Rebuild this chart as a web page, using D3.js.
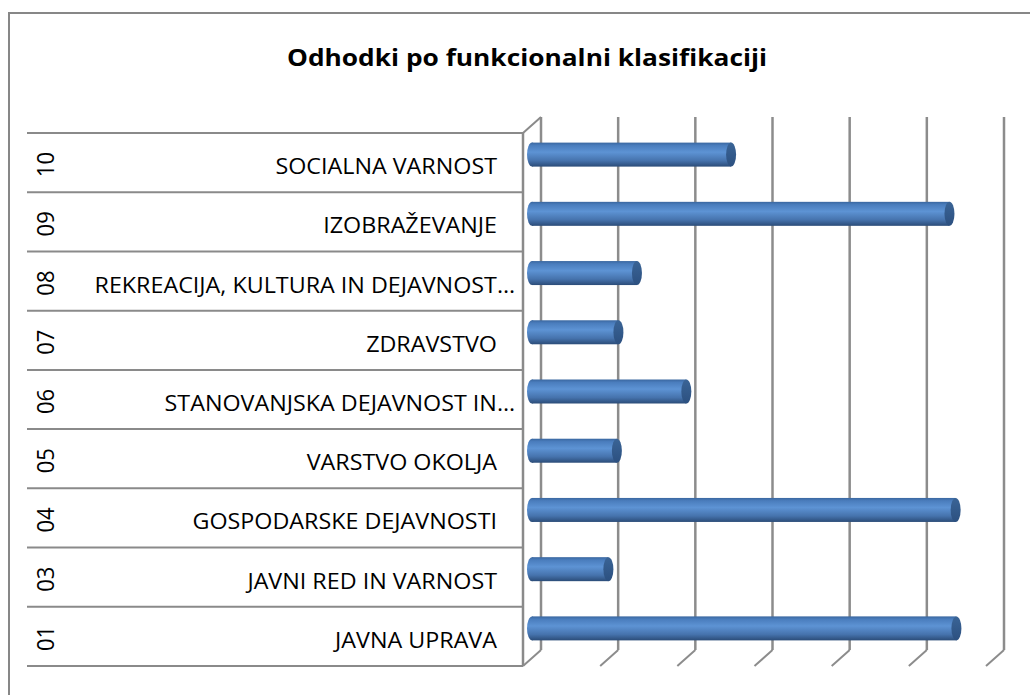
<!DOCTYPE html>
<html>
<head>
<meta charset="utf-8">
<script src="https://cdn.jsdelivr.net/npm/d3@7"></script>
<style>
  body { margin: 0; background: #fff; }
  text { font-family: "Open Sans", "Noto Sans", sans-serif; fill: #000; }
</style>
</head>
<body>
<script>
const width = 1030;
const height = 695;

// podatki (od zgoraj navzdol, kot na grafu)
const codes = ['10', '09', '08', '07', '06', '05', '04', '03', '01'];
const names = [
    'SOCIALNA VARNOST',
    'IZOBRAŽEVANJE',
    'REKREACIJA, KULTURA IN DEJAVNOST…',
    'ZDRAVSTVO',
    'STANOVANJSKA DEJAVNOST IN…',
    'VARSTVO OKOLJA',
    'GOSPODARSKE DEJAVNOSTI',
    'JAVNI RED IN VARNOST',
    'JAVNA UPRAVA'
];
const values = [2.58, 5.41, 1.36, 1.12, 2.00, 1.10, 5.49, 0.99, 5.50];
const valueTicks = [0, 1, 2, 3, 4, 5, 6];

const title = 'Odhodki po funkcionalni klasifikaciji';

const svg = d3.select('body').append('svg').attr('width', width).attr('height', height);

// gradient za valje
const defs = svg.append('defs');
const grad = defs.append('linearGradient').attr('id', 'cyl').attr('x1', 0).attr('y1', 0).attr('x2', 0).attr('y2', 1);
grad.append('stop').attr('offset', '0%').attr('stop-color', '#3a67a0');
grad.append('stop').attr('offset', '12%').attr('stop-color', '#4a7dbd');
grad.append('stop').attr('offset', '40%').attr('stop-color', '#5d93d4');
grad.append('stop').attr('offset', '75%').attr('stop-color', '#4673ad');
grad.append('stop').attr('offset', '100%').attr('stop-color', '#2b4c78');

const capGrad = defs.append('linearGradient').attr('id', 'cap').attr('x1', 0).attr('y1', 0).attr('x2', 0).attr('y2', 1);
capGrad.append('stop').attr('offset', '0%').attr('stop-color', '#3a6496');
capGrad.append('stop').attr('offset', '100%').attr('stop-color', '#2c5080');

// okvir grafa
svg.append('rect')
    .attr('x', 9).attr('y', 13)
    .attr('width', 1100).attr('height', 800)
    .attr('fill', 'none').attr('stroke', '#878787').attr('stroke-width', 2);

svg.append('text')
    .attr('x', 527).attr('y', 57)
    .attr('text-anchor', 'middle')
    .attr('dominant-baseline', 'central')
    .attr('font-size', 23).attr('font-weight', 'bold')
    .attr('textLength', 480).attr('lengthAdjust', 'spacingAndGlyphs')
    .text(title);

// 3D geometrija: zadnja stena in zamik globine
const back = { left: 541, top: 117, bottom: 650 };
const depth = { dx: -18, dy: 16 };
const frontTop = back.top + depth.dy;
const frontBottom = back.bottom + depth.dy;
const frontLeft = back.left + depth.dx;

const x = d3.scaleLinear().domain([0, 6]).range([0, 463]);
const yBack = d3.scaleBand().domain(codes).range([back.top, back.bottom]);
const yFront = d3.scaleBand().domain(codes).range([frontTop, frontBottom]);

const gridColor = '#8c8c8c';

// mrezne crte
const grid = svg.append('g');
grid.selectAll('line.v')
    .data(valueTicks)
    .enter()
    .append('line')
    .attr('x1', d => back.left + x(d)).attr('x2', d => back.left + x(d))
    .attr('y1', back.top).attr('y2', back.bottom)
    .attr('stroke', gridColor).attr('stroke-width', 2.5);
grid.selectAll('line.d')
    .data(valueTicks)
    .enter()
    .append('line')
    .attr('x1', d => back.left + x(d)).attr('y1', back.bottom)
    .attr('x2', d => back.left + x(d) + depth.dx).attr('y2', frontBottom)
    .attr('stroke', gridColor).attr('stroke-width', 2);

// leva stena (rob) in kategorijska os
const axisColor = '#8a8a8a';
svg.append('line')
    .attr('x1', frontLeft).attr('x2', frontLeft)
    .attr('y1', frontTop).attr('y2', frontBottom)
    .attr('stroke', axisColor).attr('stroke-width', 2.5);
svg.append('line')
    .attr('x1', frontLeft).attr('y1', frontTop)
    .attr('x2', back.left).attr('y2', back.top)
    .attr('stroke', axisColor).attr('stroke-width', 2);

const rowLines = [frontTop].concat(codes.map(c => yFront(c) + yFront.bandwidth()));
svg.selectAll('line.row')
    .data(rowLines)
    .enter()
    .append('line')
    .attr('x1', 27).attr('x2', frontLeft)
    .attr('y1', d => d).attr('y2', d => d)
    .attr('stroke', axisColor).attr('stroke-width', 2);

// oznake kategorij
const labels = svg.append('g');
codes.forEach((c, i) => {
    const cy = yFront(c) + yFront.bandwidth() / 2;
    labels.append('text')
        .attr('transform', `translate(45,${cy + 2}) rotate(-90) scale(1,1.1)`)
        .attr('text-anchor', 'middle')
        .attr('dominant-baseline', 'central')
        .attr('font-size', 22)
        .text(c);
    // skrajsana imena segajo do roba, ostala imajo presledek na koncu
    const cut = names[i].endsWith('…');
    labels.append('text')
        .attr('transform', `translate(${cut ? 515 : 497},${cy + 3}) scale(1.11,1)`)
        .attr('text-anchor', 'end')
        .attr('dominant-baseline', 'central')
        .attr('font-size', 21)
        .text(names[i]);
});

// valji (stolpci)
const barH = 24;
const x0 = back.left + depth.dx / 2;
const capRx = 5;
const bars = svg.append('g');
codes.forEach((c, i) => {
    const cy = yBack(c) + yBack.bandwidth() / 2 + depth.dy / 2;
    const xe = x0 + x(values[i]);
    const g = bars.append('g');
    g.append('ellipse')
        .attr('cx', x0).attr('cy', cy)
        .attr('rx', capRx).attr('ry', barH / 2)
        .attr('fill', 'url(#cyl)');
    g.append('rect')
        .attr('x', x0).attr('y', cy - barH / 2)
        .attr('width', xe - x0).attr('height', barH)
        .attr('fill', 'url(#cyl)');
    g.append('ellipse')
        .attr('cx', xe).attr('cy', cy)
        .attr('rx', capRx).attr('ry', barH / 2)
        .attr('fill', 'url(#cap)');
});
</script>
</body>
</html>
